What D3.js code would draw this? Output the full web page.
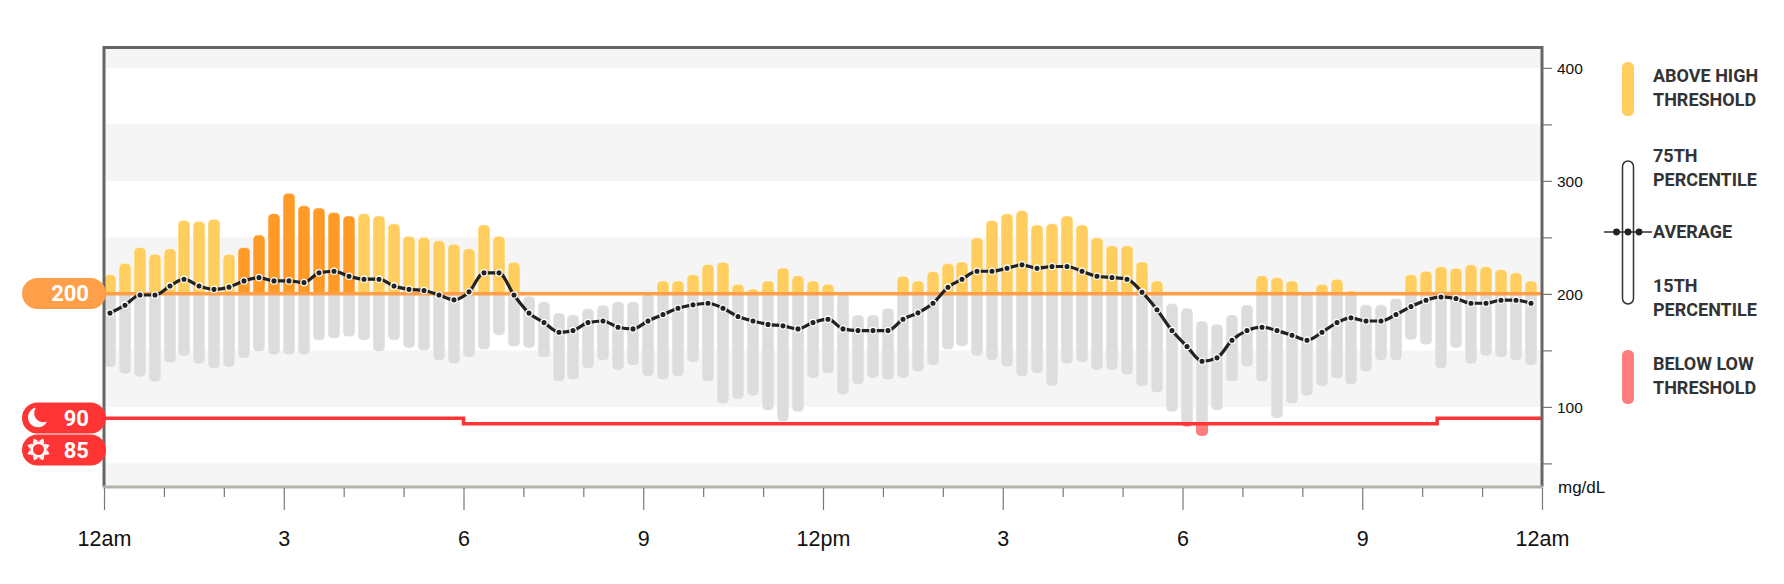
<!DOCTYPE html>
<html>
<head>
<meta charset="utf-8">
<style>
  html, body { margin: 0; padding: 0; background: #fff; }
  svg { display: block; }
  .axis path, .axis line { stroke: #777; }
  .axis text { fill: #111; font-family: "Liberation Sans", sans-serif; }
  .legend text { fill: #333; font: 700 18px Roboto, sans-serif; }
  .pill text { fill: #fff; font: 700 22px Roboto, sans-serif; text-anchor: end; }
</style>
<script src="https://cdn.jsdelivr.net/npm/d3@7"></script>
</head>
<body>
<div id="chart"></div>
<script>
// one bar per 15 minutes
var p75 = [217, 227, 241, 235, 240, 265, 264, 266, 235, 241, 252, 271, 289, 278, 276, 272,
  269, 271, 269, 262, 251, 250, 247, 244, 240, 261, 251, 228, 198, 193, 183, 181.5,
  187, 190, 193, 193, 200.5, 211.5, 211.5, 217, 226, 228, 208.6, 204.4, 211.5, 223, 216, 211.5,
  208.6, 200, 181.4, 181.4, 187.3, 215.6, 211.5, 219.8, 226.8, 228.3, 249.6, 265, 270.8, 273.7,
  261, 262, 269, 261, 249.6, 242.5, 242.5, 228.3, 211.5, 191.4, 187.3, 176, 173.2, 181.4,
  190.3, 216, 214.4, 211.5, 201, 208.6, 213, 202.7, 190.3, 190.3, 196, 217, 220, 224,
  222.7, 225.7, 224, 221.5, 218.6, 211.5]
var p15 = [135, 129, 126.5, 122, 139, 145, 138, 134, 135, 143, 149, 146, 146, 146, 159, 160.5,
  162, 159, 149, 159, 152, 149.6, 141, 138, 143.7, 150.7, 163.4, 153.4, 152, 143.7, 122.4, 124,
  134, 141, 132.5, 136.6, 126.8, 124, 126.8, 139.5, 122.4, 102.7, 106.8, 109.7, 97, 87, 95.6, 125.4,
  129.5, 111, 119.8, 125.4, 124, 125.4, 131, 136.6, 150.7, 153.7, 145, 141, 135.4, 126.8,
  129.5, 118.3, 138, 139.5, 132.5, 132.5, 128.3, 118.3, 112.7, 95.6, 82.6, 74.3, 97, 122.4,
  135.4, 122.4, 90, 102.7, 109.7, 118.3, 125, 119.8, 131, 141, 141, 159.3, 155, 134,
  152, 138, 145, 143.7, 141, 136.6]
var average = [183, 190, 199, 199, 207, 213, 207, 204, 206, 211.5, 214.4, 211.5, 211.5, 210, 218.6, 220,
  215.6, 213, 213, 207, 204, 203, 199, 194.7, 201.8, 218.6, 218.6, 199, 183, 174.6, 166, 167.5,
  174.6, 176, 170.5, 169, 176, 181.7, 187.3, 190.3, 191.7, 187.3, 180, 176, 173, 171.7, 169, 174.6,
  177.6, 169, 167.5, 167.5, 167.5, 177.6, 183.2, 191.7, 205.9, 213, 220, 220, 222.7, 225.7,
  222.7, 224.2, 224.2, 220, 215.6, 214.4, 213, 201.5, 186, 167.5, 153.4, 140.4, 143.4, 159,
  167.5, 170.5, 167.5, 163.4, 159, 166, 174.6, 178.8, 176, 176, 181.7, 188.8, 194.4, 197.3,
  195.8, 191.7, 191.7, 194.4, 194.4, 191.7]
// bars that are drawn in the darker orange
var darkBars = [9, 10, 11, 12, 13, 14, 15, 16]

var highThreshold = 200
// low threshold by hour of day: [from, to, value]
var lowSteps = [[0, 6, 90], [6, 22.25, 85], [22.25, 24, 90]]
var bands = [[30, 50], [100, 150], [200, 250], [300, 350], [400, 418]]

var yTicks = [50, 100, 150, 200, 250, 300, 350, 400]
var yLabels = [100, 200, 300, 400]
var xTicks = d3.range(0, 25)
var xLabels = ['12am', '3', '6', '9', '12pm', '3', '6', '9', '12am']

var legendLines = [
  ['ABOVE HIGH', 82], ['THRESHOLD', 106],
  ['75TH', 162], ['PERCENTILE', 186],
  ['AVERAGE', 238],
  ['15TH', 292], ['PERCENTILE', 316],
  ['BELOW LOW', 370], ['THRESHOLD', 394]
]

var colors = { yellow: '#ffce5e', dark: '#ff9a27', grey: '#dddddd', band: '#f5f5f5', low: '#ff7d7d', red: '#ff3434', orange: '#ff9f4a', line: '#222222' }

var width = 1784
var height = 584
var left = 104
var right = 1542
var top_ = 47.5
var bottom = 487
var barW = 12

var svg = d3.select('#chart').append('svg').attr('width', width).attr('height', height)
var defs = svg.append('defs')

var x = d3.scaleLinear().domain([0, 24]).range([left, right])
var y = d3.scaleLinear().domain([30, 418]).range([486, top_])

defs.append('clipPath').attr('id', 'above').append('rect')
  .attr('x', left).attr('y', 0).attr('width', right - left).attr('height', y(highThreshold))
defs.append('clipPath').attr('id', 'mid').append('rect')
  .attr('x', left).attr('y', y(highThreshold)).attr('width', right - left).attr('height', height)

// 背景色带
svg.selectAll('rect.band').data(bands).enter().append('rect')
  .attr('class', 'band')
  .attr('x', left).attr('width', right - left)
  .attr('y', function (d) { return y(d[1]) })
  .attr('height', function (d) { return y(d[0]) - y(d[1]) })
  .attr('fill', colors.band)

// bar centres sit 6 minutes into each 15 minute slot
function barX (i) { return Math.round(x(0.095 + i * 0.2497)) }

var barIdx = d3.range(p75.length)
function drawBars (g, fill) {
  g.selectAll('rect').data(barIdx).enter().append('rect')
    .attr('x', function (i) { return barX(i) - barW / 2 })
    .attr('width', barW)
    .attr('y', function (i) { return y(p75[i]) })
    .attr('height', function (i) { return y(p15[i]) - y(p75[i]) })
    .attr('rx', 4.5)
    .attr('fill', fill)
    .attr('stroke', '#fff')
    .attr('stroke-opacity', 0.5)
}
svg.append('g').attr('clip-path', 'url(#mid)').call(drawBars, colors.grey)
svg.append('g').attr('clip-path', 'url(#above)').call(drawBars, function (i) {
  return darkBars.indexOf(i) >= 0 ? colors.dark : colors.yellow
})

// 低于阈值的部分
function lowAt (i) {
  var h = 0.095 + i * 0.2497
  return lowSteps.find(function (s) { return h >= s[0] && h < s[1] })[2]
}
barIdx.filter(function (i) { return p15[i] < lowAt(i) }).forEach(function (i) {
  var id = 'low' + i
  defs.append('clipPath').attr('id', id).append('rect')
    .attr('x', barX(i) - 8).attr('width', 16)
    .attr('y', y(lowAt(i))).attr('height', 60)
  svg.append('rect')
    .attr('clip-path', 'url(#' + id + ')')
    .attr('x', barX(i) - barW / 2).attr('width', barW)
    .attr('y', y(p75[i])).attr('height', y(p15[i]) - y(p75[i]))
    .attr('rx', 4.5)
    .attr('fill', colors.low)
})

// thresholds
svg.append('line')
  .attr('x1', left).attr('x2', right)
  .attr('y1', y(highThreshold)).attr('y2', y(highThreshold))
  .attr('stroke', colors.orange).attr('stroke-width', 3.5)

var lowLine = d3.line().x(function (d) { return x(d[0]) }).y(function (d) { return y(d[1]) })
var lowPoints = []
lowSteps.forEach(function (s) { lowPoints.push([s[0], s[2]], [s[1], s[2]]) })
svg.append('path').attr('d', lowLine(lowPoints))
  .attr('fill', 'none').attr('stroke', colors.red).attr('stroke-width', 3.5)

// average line
var avgLine = d3.line()
  .x(function (d, i) { return barX(i) })
  .y(function (d) { return y(d) })
  .curve(d3.curveMonotoneX)
svg.append('path').attr('d', avgLine(average))
  .attr('fill', 'none').attr('stroke', colors.line).attr('stroke-width', 3.2)
svg.selectAll('circle.avg').data(average).enter().append('circle')
  .attr('class', 'avg')
  .attr('cx', function (d, i) { return barX(i) })
  .attr('cy', function (d) { return y(d) })
  .attr('r', 3.2)
  .attr('fill', colors.line)
  .attr('stroke', '#fff')
  .attr('stroke-width', 1.3)

// frame
svg.append('path')
  .attr('d', 'M' + left + ',' + bottom + 'V' + top_ + 'H' + right + 'V' + bottom)
  .attr('fill', 'none').attr('stroke', '#666').attr('stroke-width', 3)
svg.append('line')
  .attr('x1', left - 1).attr('x2', right + 1).attr('y1', bottom).attr('y2', bottom)
  .attr('stroke', '#b3b3ad').attr('stroke-width', 3)

// axes
var yAxis = svg.append('g').attr('class', 'axis')
  .attr('transform', 'translate(' + (right + 1) + ',0)')
  .call(d3.axisRight(y).tickValues(yTicks).tickSize(9).tickPadding(5)
    .tickFormat(function (d) { return yLabels.indexOf(d) >= 0 ? d : '' }))
yAxis.select('.domain').remove()
yAxis.selectAll('text').attr('font-size', 15.5).attr('dy', '0.36em')
yAxis.selectAll('line').attr('stroke-width', 1.2)

var xAxis = svg.append('g').attr('class', 'axis')
  .attr('transform', 'translate(0,' + (bottom + 1) + ')')
  .call(d3.axisBottom(x).tickValues(xTicks).tickSize(8)
    .tickFormat(function (d) { return d % 3 === 0 ? xLabels[d / 3] : '' }))
xAxis.select('.domain').remove()
xAxis.selectAll('line')
  .attr('y2', function (d) { return d % 3 === 0 ? 22 : 9 })
  .attr('stroke-width', 1.2)
xAxis.selectAll('text').attr('font-size', 21.5).attr('y', 43).attr('dy', '0.71em')

svg.append('text').attr('x', 1558).attr('y', 493)
  .attr('font-family', '"Liberation Sans", sans-serif').attr('font-size', 17).attr('fill', '#111')
  .text('mg/dL')

// threshold pills
function pill (py, fill, label) {
  var g = svg.append('g').attr('class', 'pill')
  g.append('rect').attr('x', 22).attr('y', py).attr('width', 84).attr('height', 31).attr('rx', 15.5).attr('fill', fill)
  g.append('text').attr('x', 89).attr('y', py + 23).text(label)
  return g
}
pill(278, colors.orange, highThreshold)
var moon = pill(402.5, colors.red, lowSteps[0][2])
var sun = pill(434.5, colors.red, lowSteps[1][2])

moon.append('path')
  .attr('d', 'M36,407.5 A10,10 0 1 0 47,421.5 A9.2,9.2 0 0 1 36,407.5 Z')
  .attr('fill', '#fff')
sun.append('circle').attr('cx', 38.5).attr('cy', 449.5).attr('r', 6.8)
  .attr('fill', 'none').attr('stroke', '#fff').attr('stroke-width', 2.6)
sun.selectAll('path').data(d3.range(8)).enter().append('path')
  .attr('d', 'M-3,-8 L0,-12 L3,-8 Z')
  .attr('fill', '#fff')
  .attr('transform', function (d) { return 'translate(38.5,449.5) rotate(' + (d * 45 + 22.5) + ')' })

// legend
var legend = svg.append('g').attr('class', 'legend')
legend.append('rect').attr('x', 1622).attr('y', 62).attr('width', 12).attr('height', 54).attr('rx', 5.5).attr('fill', colors.yellow)
legend.append('rect').attr('x', 1622.5).attr('y', 161).attr('width', 11).attr('height', 143).attr('rx', 5.5)
  .attr('fill', '#fff').attr('stroke', '#333').attr('stroke-width', 1.5)
legend.append('line').attr('x1', 1604).attr('x2', 1652).attr('y1', 232).attr('y2', 232).attr('stroke', '#333').attr('stroke-width', 1.5)
legend.selectAll('circle').data([1616.5, 1628, 1639]).enter().append('circle')
  .attr('cx', function (d) { return d }).attr('cy', 232).attr('r', 3.4).attr('fill', '#222')
legend.append('rect').attr('x', 1622).attr('y', 350).attr('width', 12).attr('height', 54).attr('rx', 5.5).attr('fill', colors.low)
legend.selectAll('text').data(legendLines).enter().append('text')
  .attr('x', 1653)
  .attr('y', function (d) { return d[1] })
  .text(function (d) { return d[0] })
</script>
</body>
</html>
